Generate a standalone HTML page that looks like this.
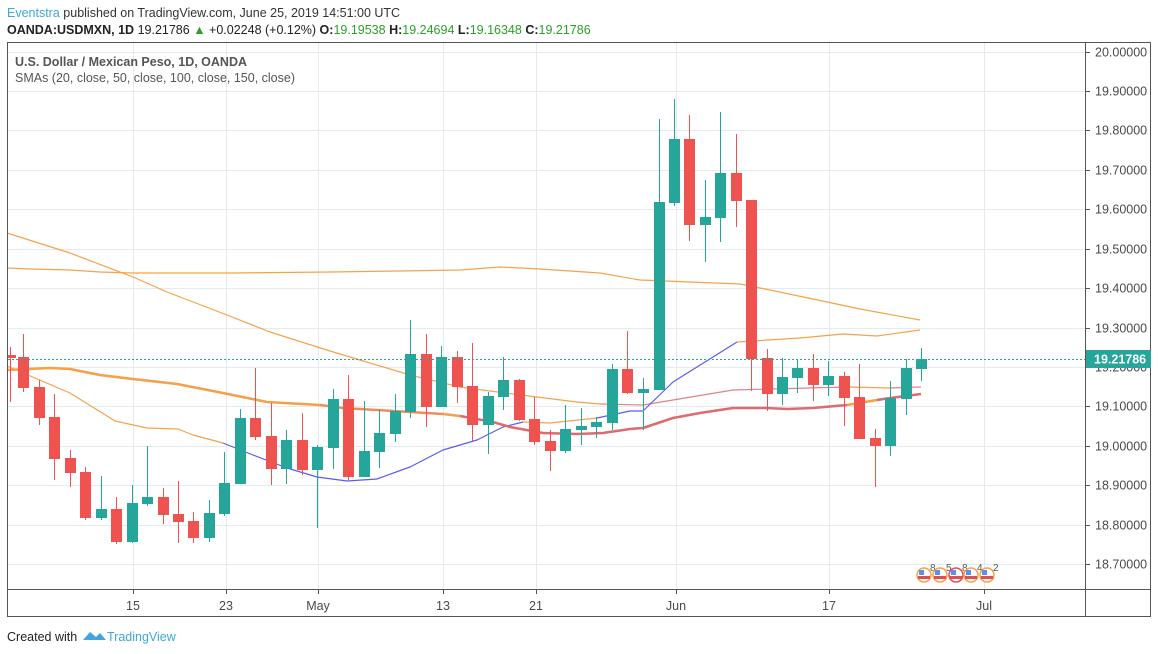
<!DOCTYPE html>
<html><head><meta charset="utf-8"><style>
body{margin:0;background:#fff;width:1158px;height:654px;overflow:hidden;font-family:"Liberation Sans",sans-serif}
svg{position:absolute;left:0;top:0}
</style></head><body>
<svg width="1158" height="654" viewBox="0 0 1158 654" xmlns="http://www.w3.org/2000/svg" font-family="Liberation Sans, sans-serif">
<text x="7" y="17" font-size="12.5" fill="#333"><tspan fill="#3ea6dc">Eventstra</tspan> published on TradingView.com, June 25, 2019 14:51:00 UTC</text>
<text x="7" y="34" font-size="12.5" fill="#222"><tspan font-weight="bold">OANDA:USDMXN, 1D</tspan> 19.21786 <tspan fill="#2ba02b">▲</tspan> +0.02248 (+0.12%) <tspan font-weight="bold">O:</tspan><tspan fill="#2ba02b">19.19538</tspan> <tspan font-weight="bold">H:</tspan><tspan fill="#2ba02b">19.24694</tspan> <tspan font-weight="bold">L:</tspan><tspan fill="#2ba02b">19.16348</tspan> <tspan font-weight="bold">C:</tspan><tspan fill="#2ba02b">19.21786</tspan></text>
<g id="grid" stroke="#e3eaf0" stroke-width="1"></g>
<g id="series"></g>
<rect x="7.5" y="42.5" width="1143" height="574" fill="none" stroke="#555" stroke-width="1"/>
<line x1="1085.5" y1="42" x2="1085.5" y2="617" stroke="#555"/>
<line x1="7" y1="589.5" x2="1151" y2="589.5" stroke="#555"/>
<g id="labels" font-size="12.5" fill="#4a4a4a"></g>
<text x="15" y="66" font-size="12.5" font-weight="bold" fill="#555">U.S. Dollar / Mexican Peso, 1D, OANDA</text>
<text x="15" y="82" font-size="12.5" fill="#555">SMAs (20, close, 50, close, 100, close, 150, close)</text>
<g id="ev"></g>
<text x="7" y="641" font-size="12.5" fill="#222">Created with</text>
<path d="M83 640 L90 632 L96 637 L100 633 L106 640 Z" fill="#3ea6dc"/>
<text x="107" y="641" font-size="12.5" fill="#3ea6dc">TradingView</text>
</svg>
<script>
var NS="http://www.w3.org/2000/svg";
function el(p,t,a){var e=document.createElementNS(NS,t);for(var k in a)e.setAttribute(k,a[k]);document.getElementById(p).appendChild(e);return e;}
function Y(p){return 91+(19.9-p)*394.2;}
for(var k=-1;k<=12;k++){var y=Math.round(Y(19.9-k*0.1))+0.5;el("grid","line",{x1:8,x2:1085,y1:y,y2:y});
 el("grid","line",{x1:1085,x2:1090,y1:y,y2:y,stroke:"#555"});
 var t=el("labels","text",{x:1095,y:y+4});t.textContent=(19.9-k*0.1).toFixed(5);}
var vx=[[133,"15"],[226,"23"],[318,"May"],[443,"13"],[536,"21"],[676,"Jun"],[829,"17"],[984,"Jul"]];
vx.forEach(function(v){el("grid","line",{x1:v[0]+.5,x2:v[0]+.5,y1:43,y2:589});
 el("grid","line",{x1:v[0]+.5,x2:v[0]+.5,y1:589,y2:594,stroke:"#555"});
 var t=el("labels","text",{x:v[0],y:610,"text-anchor":"middle"});t.textContent=v[1];});
function pl(pts,c,w,op){el("series","polyline",{points:pts,fill:"none",stroke:c,"stroke-width":w,"stroke-opacity":op||1,"stroke-linejoin":"round"});}
pl("7,233 70,253 133,277 167,292 227,315 270,332 330,351 360,360 410,375 460,387 490,391 537,397 577,402 600,404","#f7a24a",1.2);
pl("600,404 643,405 733,390 847,387","#e0828a",1.2);
pl("847,387 890,388","#f7a24a",1.2);
pl("890,388 921,387","#e0828a",1.2);
pl("7,268 30,269 70,270 100,272 133,273 230,273 330,272 400,271 460,270 500,267 540,269 600,273 640,280 740,284 760,288 813,299 860,309 920,320","#f7a24a",1.2);
pl("7,366 70,393 115,421 147,428 178,429 193,435 223,443","#f7a24a",1.2);
pl("223,443 253,455 287,468 317,477 347,481 377,479 410,467 443,450 477,440 503,427 523,422","#5b5bf5",1.2);
pl("523,422 550,423 597,418","#f7a24a",1.2);
pl("597,418 630,411 643,411 673,382 737,342","#5b5bf5",1.2);
pl("737,342 800,338 843,334 877,336 920,330","#f7a24a",1.2);
pl("7,370 50,368 70,369 100,375 133,379 177,384 223,393 267,402 320,405 343,408 377,410 443,414 460,416","#f5a04a",2.6);
pl("460,416 493,422 510,427 543,433 577,434 603,433 630,429 643,428 673,418 700,413 733,408 767,408 787,409 813,408 847,405","#df6a6f",2.6);
pl("847,405 877,400","#f5a04a",2.6);
pl("877,400 890,398 921,394","#df6a6f",2.6);
pl("320,405 343,408 377,410 443,414","#e57373",2,0.5);
var C=[[10,355,358,347,402,0],[23,357,388,334,392,0],[39,387,418,380,425,0],[54,417,459,394,480,0],[70,458,473,450,487,0],[85,472,518,467,520,0],[101,509,518,476,520,1],[116,509,542,497,544,0],[132,503,542,485,543,1],[147,497,504,446,506,1],[163,497,515,488,524,0],[178,514,522,481,543,0],[193,521,538,512,543,0],[209,513,538,500,542,1],[224,483,514,452,516,1],[240,418,484,409,484,1],[255,418,437,368,440,0],[271,436,469,403,485,0],[286,440,469,430,484,1],[302,440,470,413,475,0],[317,447,470,445,528,1],[333,399,448,389,469,1],[348,399,477,375,480,0],[364,451,477,401,477,1],[379,433,452,410,468,1],[395,411,434,394,442,1],[410,354,412,320,418,1],[426,354,407,334,427,0],[441,357,407,346,407,1],[457,357,387,351,403,0],[472,386,425,343,441,0],[488,396,425,392,454,1],[503,380,397,357,410,1],[519,380,420,379,421,0],[534,419,442,397,445,0],[550,441,451,430,471,0],[565,429,451,405,453,1],[581,426,430,408,445,1],[596,422,427,417,438,1],[612,369,423,364,430,1],[627,369,393,331,394,0],[643,389,393,378,430,1],[659,202,390,119,390,1],[674,139,203,99,206,1],[689,139,225,115,241,0],[705,217,225,180,262,1],[720,173,218,112,242,1],[736,173,201,134,227,0],[751,200,359,200,391,0],[767,358,394,349,411,0],[782,377,394,358,405,1],[797,368,378,359,393,1],[813,368,385,354,401,0],[828,376,385,361,396,1],[844,376,398,372,426,0],[859,397,439,364,439,0],[875,438,446,429,487,0],[890,398,446,381,456,1],[906,368,399,359,415,1],[921,359,369,348,381,1]];
C.forEach(function(c){var col=c[5]?"#26a69a":"#ef5350";
 el("series","line",{x1:c[0]+.5,x2:c[0]+.5,y1:c[3],y2:c[4],stroke:col,"stroke-width":1});
 var x0=Math.max(8,c[0]-5),x1=c[0]+6;
 el("series","rect",{x:x0,y:c[1],width:x1-x0,height:Math.max(1,c[2]-c[1]),fill:col});});
el("series","line",{x1:8,x2:1085,y1:359.5,y2:359.5,stroke:"#26a69a","stroke-dasharray":"2,2"});
el("labels","rect",{x:1086,y:350,width:65,height:18,fill:"#26a69a"});
var t=el("labels","text",{x:1094,y:363.5,fill:"#fff","font-weight":"bold","font-size":"12.5"});t.textContent="19.21786";
var ex=[917,933,949,964,980],nums=["8","5","8","4","2"];
ex.forEach(function(x,i){el("ev","circle",{cx:x+7,cy:575,r:7,fill:"#fff",stroke:i==2?"#e05050":"#f7a24a","stroke-width":1.5});
 el("ev","rect",{x:x+1,y:576,width:12,height:3,fill:"#e05050"});
 el("ev","rect",{x:x+2,y:570,width:5,height:5,fill:"#5b8ff0"});
 var t=el("ev","text",{x:x+13,y:571,"font-size":"10",fill:"#555"});t.textContent=nums[i];});
</script>
</body></html>
